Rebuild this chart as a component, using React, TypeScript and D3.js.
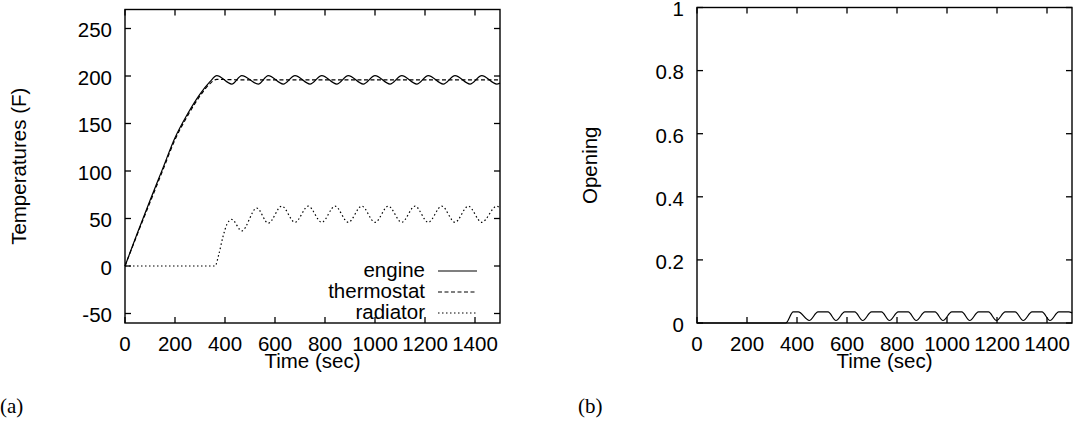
import React from "react";
import * as d3 from "d3";

// ---------- data ----------
const xTicks = [0, 200, 400, 600, 800, 1000, 1200, 1400];
const tempTicks = [-50, 0, 50, 100, 150, 200, 250];
const openTicks = [0, 0.2, 0.4, 0.6, 0.8, 1];

const engine: [number, number][] = [
  [0, 0], [50, 35], [100, 69], [150, 102], [200, 135], [250, 160], [300, 181], [340, 194], [367, 200.5],
  [427, 191.5], [467, 200.5], [533, 191.5], [573, 200.5], [633, 191.5], [680, 200.5], [740, 191.5],
  [787, 200.5], [847, 191.5], [893, 200.5], [953, 191.5], [1000, 200.5], [1060, 191.5], [1107, 200.5],
  [1167, 191.5], [1213, 200.5], [1273, 191.5], [1320, 200.5], [1380, 191.5], [1427, 200.5], [1487, 191.5],
  [1500, 192.5],
];

const thermostat: [number, number][] = [
  [0, 0], [50, 34], [100, 67], [150, 100], [200, 133], [250, 158], [300, 179], [340, 192], [367, 196.5],
  [450, 196], [600, 196], [800, 196], [1000, 196], [1200, 196], [1400, 196], [1500, 196],
];

const radiator: [number, number][] = [
  [0, 0], [360, 0], [375, 12], [392, 31], [408, 44], [427, 49], [467, 37], [527, 61], [573, 45],
  [627, 63], [680, 46], [733, 63], [787, 46], [840, 63], [893, 46], [947, 63], [1000, 46], [1053, 63],
  [1107, 46], [1160, 63], [1213, 46], [1267, 63], [1320, 46], [1373, 63], [1427, 46], [1487, 63], [1500, 61],
];

const opening: [number, number][] = [
  [0, 0], [355, 0], [385, 0.035], [405, 0.035], [449, 0.008],
  [484, 0.035], [524, 0.035], [556, 0.008],
  [591, 0.035], [631, 0.035], [663, 0.008],
  [698, 0.035], [738, 0.035], [770, 0.008],
  [805, 0.035], [845, 0.035], [877, 0.008],
  [912, 0.035], [952, 0.035], [984, 0.008],
  [1019, 0.035], [1059, 0.035], [1091, 0.008],
  [1126, 0.035], [1166, 0.035], [1198, 0.008],
  [1233, 0.035], [1273, 0.035], [1305, 0.008],
  [1340, 0.035], [1380, 0.035], [1412, 0.008],
  [1447, 0.035], [1487, 0.035], [1500, 0.032],
];

const legendItems = [
  { label: "engine", dash: "none" },
  { label: "thermostat", dash: "4,2.5" },
  { label: "radiator", dash: "1.5,2.5" },
];

// ---------- layout ----------
const W = 1078;
const H = 425;
const FONT = "'Liberation Sans', Arial, Helvetica, sans-serif";
const FS = 20.5;
const TICK = 6;

const pA = { left: 125, right: 500, top: 9.5, bottom: 323 };
const pB = { left: 697, right: 1072, top: 7.5, bottom: 323 };

const xA = d3.scaleLinear().domain([0, 1500]).range([pA.left, pA.right]);
const yA = d3.scaleLinear().domain([-60, 270]).range([pA.bottom, pA.top]);
const xB = d3.scaleLinear().domain([0, 1500]).range([pB.left, pB.right]);
const yB = d3.scaleLinear().domain([0, 1]).range([pB.bottom, pB.top]);

function fmtOpen(v: number) {
  return String(+v.toFixed(1));
}

type Box = { left: number; right: number; top: number; bottom: number };

function Frame({
  box, x, y, yTicks, yFmt, yLabel, yLabelX,
}: {
  box: Box;
  x: d3.ScaleLinear<number, number>;
  y: d3.ScaleLinear<number, number>;
  yTicks: number[];
  yFmt: (v: number) => string;
  yLabel: string;
  yLabelX: number;
}) {
  const cx = (box.left + box.right) / 2;
  const cy = (box.top + box.bottom) / 2;
  return (
    <g>
      <rect x={box.left} y={box.top} width={box.right - box.left} height={box.bottom - box.top}
        fill="none" stroke="#000" strokeWidth={1.4} />
      {xTicks.map((t) => (
        <g key={"x" + t}>
          <line x1={x(t)} x2={x(t)} y1={box.bottom} y2={box.bottom - TICK} stroke="#000" strokeWidth={1.3} />
          <line x1={x(t)} x2={x(t)} y1={box.top} y2={box.top + TICK} stroke="#000" strokeWidth={1.3} />
          <text x={x(t)} y={351} textAnchor="middle" fontFamily={FONT} fontSize={FS}>{t}</text>
        </g>
      ))}
      {yTicks.map((t) => (
        <g key={"y" + t}>
          <line x1={box.left} x2={box.left + TICK} y1={y(t)} y2={y(t)} stroke="#000" strokeWidth={1.3} />
          <line x1={box.right} x2={box.right - TICK} y1={y(t)} y2={y(t)} stroke="#000" strokeWidth={1.3} />
          <text x={box.left - 13} y={y(t) + 1.5} dy="0.36em" textAnchor="end" fontFamily={FONT} fontSize={FS}>{yFmt(t)}</text>
        </g>
      ))}
      <text x={cx} y={368} textAnchor="middle" fontFamily={FONT} fontSize={FS}>Time (sec)</text>
      <text transform={`translate(${yLabelX},${cy}) rotate(-90)`} textAnchor="middle" fontFamily={FONT} fontSize={FS}>
        {yLabel}
      </text>
    </g>
  );
}

export default function App() {
  const lineA = d3.line<[number, number]>().x((d) => xA(d[0])).y((d) => yA(d[1])).curve(d3.curveMonotoneX);
  const lineB = d3.line<[number, number]>().x((d) => xB(d[0])).y((d) => yB(d[1])).curve(d3.curveMonotoneX);

  const legX = 425;
  const legBase = [277, 298, 319];

  return (
    <svg width={W} height={H} viewBox={`0 0 ${W} ${H}`}
      style={{ position: "absolute", left: 0, top: 0, background: "#fff" }}>
      <rect x={0} y={0} width={W} height={H} fill="#fff" />

      {/* (a) */}
      <Frame box={pA} x={xA} y={yA} yTicks={tempTicks} yFmt={(v) => String(v)} yLabel="Temperatures (F)" yLabelX={26} />
      <path d={lineA(thermostat) || ""} fill="none" stroke="#000" strokeWidth={1.2} strokeDasharray="4,2.5" />
      <path d={lineA(engine) || ""} fill="none" stroke="#000" strokeWidth={1.2} />
      <path d={lineA(radiator) || ""} fill="none" stroke="#000" strokeWidth={1.2} strokeDasharray="1.5,2.5" />
      {legendItems.map((it, i) => (
        <g key={it.label}>
          <text x={legX} y={legBase[i]} textAnchor="end" fontFamily={FONT} fontSize={FS}>{it.label}</text>
          <line x1={438} x2={477} y1={legBase[i] - 6} y2={legBase[i] - 6} stroke="#000" strokeWidth={1.2}
            strokeDasharray={it.dash === "none" ? undefined : it.dash} />
        </g>
      ))}

      {/* (b) */}
      <Frame box={pB} x={xB} y={yB} yTicks={openTicks} yFmt={fmtOpen} yLabel="Opening" yLabelX={597} />
      <path d={lineB(opening) || ""} fill="none" stroke="#000" strokeWidth={1.2} />

      <text x={0} y={413} fontFamily="'Liberation Serif', 'Times New Roman', serif" fontSize={21}>(a)</text>
      <text x={578} y={413} fontFamily="'Liberation Serif', 'Times New Roman', serif" fontSize={21}>(b)</text>
    </svg>
  );
}
